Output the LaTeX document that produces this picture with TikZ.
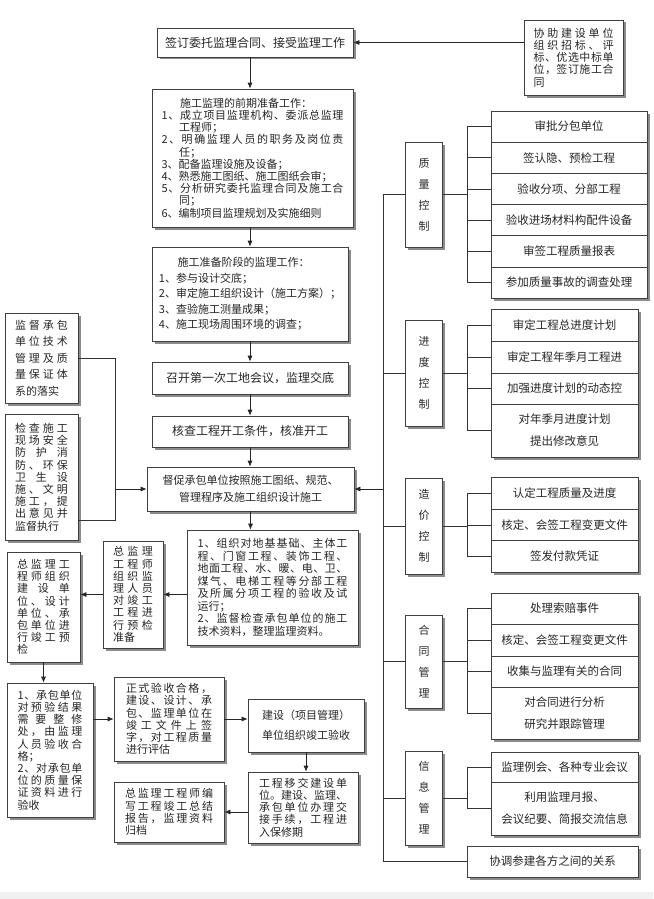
\documentclass[tikz,border=0pt]{standalone}
\usepackage{fontspec}
\setmainfont{Noto Sans CJK SC}
\usetikzlibrary{arrows.meta,shadows}

% spread the characters of one line over a given width
\newcommand\jrow[2]{\hbox to #1{\jrownext#2\relax}}
\def\jrownext#1#2{#1\ifx\relax#2\else\hfil\expandafter\jrownext\expandafter#2\fi}

\tikzset{
  box/.style={draw=black!75, line width=0.7pt, fill=white, text=black!85, inner sep=3pt,
    drop shadow={shadow xshift=2.5pt, shadow yshift=-2.5pt, fill=black!45, opacity=1},
    font=\fontsize{11}{12.2}\selectfont},
  wide/.style={box, font=\fontsize{12}{14}\selectfont},
  cell/.style={box, inner sep=1pt, font=\fontsize{11.5}{13}\selectfont},
  cat/.style={box, minimum width=37pt, align=center, font=\fontsize{11}{21}\selectfont},
  arr/.style={-{Latex[length=6pt,width=5pt]}, line width=0.7pt, draw=black!85},
  wire/.style={line width=0.7pt, draw=black!80},
}

\begin{document}
\begin{tikzpicture}[x=1pt, y=-1pt]
  \useasboundingbox (0,0) rectangle (653,899);
  \fill[white] (0,0) rectangle (653,899);
  \fill[black!6] (0,892) rectangle (653,899);

  % main column
  \node[wide, minimum width=196pt, minimum height=29pt] (sign) at (255,42.5) {签订委托监理合同、接受监理工作};
  \node[box, minimum width=99pt, minimum height=75pt, align=left] (bid) at (573.5,57.5)
    {\jrow{80pt}{协助建设单位}\\\jrow{80pt}{组织招标、评}\\\jrow{80pt}{标、优选中标单}\\\jrow{80pt}{位，签订施工合}\\同};
  \node[box, minimum width=201pt, minimum height=138pt, align=left] (prep) at (252.5,158) {
    \hspace*{1.7em}施工监理的前期准备工作：\\
    \jrow{182pt}{1、成立项目监理机构、委派总监理}\\
    \hspace*{1.6em}工程师；\\
    \jrow{182pt}{2、明确监理人员的职务及岗位责}\\
    \hspace*{1.6em}任；\\
    3、配备监理设施及设备；\\
    4、熟悉施工图纸、施工图纸会审；\\
    \jrow{182pt}{5、分析研究委托监理合同及施工合}\\
    \hspace*{1.6em}同；\\
    6、编制项目监理规划及实施细则};
  \node[box, minimum width=196pt, minimum height=94pt, align=left, font=\fontsize{11}{15.6}\selectfont] (ready) at (250,294) {
    \hspace*{1.7em}施工准备阶段的监理工作：\\
    1、参与设计交底；\\
    2、审定施工组织设计（施工方案）；\\
    3、查验施工测量成果；\\
    4、施工现场周围环境的调查；};
  \node[wide, minimum width=196pt, minimum height=32pt] (meet) at (250,378) {召开第一次工地会议，监理交底};
  \node[wide, minimum width=196pt, minimum height=31pt] (check) at (250,431.5) {核查工程开工条件，核准开工};
  \node[box, minimum width=207pt, minimum height=44pt, align=center, font=\fontsize{11}{17}\selectfont] (urge) at (250.5,489)
    {督促承包单位按照施工图纸、规范、\\管理程序及施工组织设计施工};
  \node[box, minimum width=171pt, minimum height=115pt, align=left, font=\fontsize{11}{12.5}\selectfont] (accept) at (272.5,587.5) {
    \jrow{150pt}{1、组织对地基基础、主体工}\\
    \jrow{150pt}{程、门窗工程、装饰工程、}\\
    \jrow{150pt}{地面工程、水、暖、电、卫、}\\
    \jrow{150pt}{煤气、电梯工程等分部工程}\\
    \jrow{150pt}{及所属分项工程的验收及试}\\
    运行；\\
    \jrow{150pt}{2、监督检查承包单位的施工}\\
    技术资料，整理监理资料。};

  % completion steps
  \node[box, minimum width=60pt, minimum height=107pt, align=left] (pre) at (133,594.5)
    {\jrow{40pt}{总监理}\\\jrow{40pt}{工程师}\\\jrow{40pt}{组织监}\\\jrow{40pt}{理人员}\\
     \jrow{40pt}{对竣工}\\\jrow{40pt}{工程进}\\\jrow{40pt}{行预检}\\准备};
  \node[box, minimum width=73pt, minimum height=110pt, align=left] (chief) at (43.5,607)
    {\jrow{53pt}{总监理工}\\\jrow{53pt}{程师组织}\\\jrow{53pt}{建设单}\\\jrow{53pt}{位、设计}\\
     \jrow{53pt}{单位、承}\\\jrow{53pt}{包单位进}\\\jrow{53pt}{行竣工预}\\检};
  \node[box, minimum width=86pt, minimum height=134pt, align=left] (fix) at (50,750)
    {\jrow{65pt}{1、承包单位}\\\jrow{65pt}{对预验结果}\\\jrow{65pt}{需要整修}\\\jrow{65pt}{处，由监理}\\
     \jrow{65pt}{人员验收合}\\格；\\\jrow{65pt}{2、对承包单}\\\jrow{65pt}{位的质量保}\\
     \jrow{65pt}{证资料进行}\\验收};
  \node[box, minimum width=110pt, minimum height=84pt, align=left] (formal) at (169,719)
    {\jrow{86pt}{正式验收合格，}\\\jrow{86pt}{建设、设计、承}\\\jrow{86pt}{包、监理单位在}\\
     \jrow{86pt}{竣工文件上签}\\\jrow{86pt}{字，对工程质量}\\进行评估};
  \node[box, minimum width=116pt, minimum height=53pt, align=left, font=\fontsize{11}{20}\selectfont] (owner) at (306,725.5)
    {建设（项目管理）\\单位组织竣工验收};
  \node[box, minimum width=110pt, minimum height=71pt, align=left] (hand) at (303,807.5)
    {\jrow{88pt}{工程移交建设单}\\\jrow{88pt}{位。建设、监理、}\\\jrow{88pt}{承包单位办理交}\\
     \jrow{88pt}{接手续，工程进}\\入保修期};
  \node[box, minimum width=110pt, minimum height=60pt, align=left] (report) at (169,812)
    {\jrow{88pt}{总监理工程师编}\\\jrow{88pt}{写工程竣工总结}\\\jrow{88pt}{报告，监理资料}\\归档};

  % left side
  \node[box, minimum width=73pt, minimum height=90pt, align=left, font=\fontsize{11}{16.5}\selectfont] (sup1) at (41.5,358)
    {\jrow{53pt}{监督承包}\\\jrow{53pt}{单位技术}\\\jrow{53pt}{管理及质}\\\jrow{53pt}{量保证体}\\系的落实};
  \node[box, minimum width=73pt, minimum height=126pt, align=left] (sup2) at (41.5,477)
    {\jrow{53pt}{检查施工}\\\jrow{53pt}{现场安全}\\\jrow{53pt}{防护消}\\\jrow{53pt}{防、环保}\\
     \jrow{53pt}{卫生设}\\\jrow{53pt}{施、文明}\\\jrow{53pt}{施工，提}\\\jrow{53pt}{出意见并}\\监督执行};

  % right side
  \node[cat, minimum height=105pt] (qual) at (424,194.5) {质\\量\\控\\制};
  \node[cat, minimum height=106pt] (prog) at (424,373) {进\\度\\控\\制};
  \node[cat, minimum height=96pt] (cost) at (424,526) {造\\价\\控\\制};
  \node[cat, minimum height=93pt] (cont) at (424,661.5) {合\\同\\管\\理};
  \node[cat, minimum height=94pt] (info) at (424,798) {信\\息\\管\\理};

  \foreach \txt [count=\i] in {审批分包单位,签认隐、预检工程,验收分项、分部工程,验收进场材料构配件设备,审签工程质量报表,参加质量事故的调查处理}
    \node[cell, minimum width=156pt, minimum height=31.2pt] (q\i) at (569,95.4+31.2*\i) {\txt};
  \node[cell, minimum width=147pt, minimum height=32pt] (p1) at (564.5,325) {审定工程总进度计划};
  \node[cell, minimum width=147pt, minimum height=32pt] (p2) at (564.5,357) {审定工程年季月工程进};
  \node[cell, minimum width=147pt, minimum height=31pt] (p3) at (564.5,388.5) {加强进度计划的动态控};
  \node[cell, minimum width=147pt, minimum height=53pt, align=center, font=\fontsize{11.5}{22}\selectfont] (p4) at (564.5,430.5)
    {对年季月进度计划\\提出修改意见};
  \foreach \txt [count=\i] in {认定工程质量及进度,核定、会签工程变更文件,签发付款凭证}
    \node[cell, minimum width=147pt, minimum height=31.5pt] (c\i) at (564.5,462+31.5*\i) {\txt};
  \node[cell, minimum width=147pt, minimum height=31pt] (k1) at (564.5,608.5) {处理索赔事件};
  \node[cell, minimum width=147pt, minimum height=32pt] (k2) at (564.5,640) {核定、会签工程变更文件};
  \node[cell, minimum width=147pt, minimum height=31pt] (k3) at (564.5,671.5) {收集与监理有关的合同};
  \node[cell, minimum width=147pt, minimum height=52pt, align=center, font=\fontsize{11.5}{22}\selectfont] (k4) at (564.5,713)
    {对合同进行分析\\研究并跟踪管理};
  \node[cell, minimum width=147pt, minimum height=30pt] (m1) at (564.5,767) {监理例会、各种专业会议};
  \node[cell, minimum width=147pt, minimum height=53pt, align=center, font=\fontsize{11.5}{22}\selectfont] (m2) at (564.5,808.5)
    {利用监理月报、\\会议纪要、简报交流信息};
  \node[cell, minimum width=171pt, minimum height=31pt] (coord) at (552.5,861.5) {协调参建各方之间的关系};

  % connectors
  \coordinate (lbus) at (115,520);
  \coordinate (rbus) at (383,0);
  \coordinate (brk) at (467,0);

  \draw[arr] (bid.west |- sign.east) -- (sign.east);
  \foreach \a/\b in {sign/prep, prep/ready, ready/meet, meet/check, check/urge}
    \draw[arr] (\a.south -| check) -- (\b.north -| check);
  \draw[arr] (urge.south) -- (urge.south |- accept.north);
  \draw[arr] (accept.west |- pre.east) -- (pre.east);
  \draw[arr] (pre.west) -- (pre.west -| chief.east);
  \draw[arr] (chief.south) -- (chief.south |- fix.north);
  \draw[arr] (fix.east |- formal.west) -- (formal.west);
  \draw[arr] (formal.east) -- (formal.east -| owner.west);
  \draw[arr] (owner.south) -- (owner.south |- hand.north);
  \draw[arr] (hand.west |- report.east) -- (report.east);

  \draw[wire] (sup1.east) -| (lbus) -- (lbus -| sup2.east);
  \draw[arr] (lbus |- urge.west) -- (urge.west);

  \draw[wire] (qual.west) -- (qual.west -| rbus) -- (rbus |- coord.west) -- (coord.west);
  \foreach \c in {prog,cost,cont,info}
    \draw[wire] (\c.west) -- (\c.west -| rbus);
  \draw[arr] (rbus |- urge.east) -- (urge.east);

  \foreach \c/\p/\n in {qual/q/6, prog/p/4, cost/c/3, cont/k/4, info/m/2} {
    \draw[wire] (\c.east) -- (\c.east -| brk);
    \draw[wire] (\p1.west -| brk) -- (\p\n.west -| brk);
    \foreach \i in {1,...,\n}
      \draw[wire] (\p\i.west) -- (\p\i.west -| brk);
  }
\end{tikzpicture}
\end{document}
